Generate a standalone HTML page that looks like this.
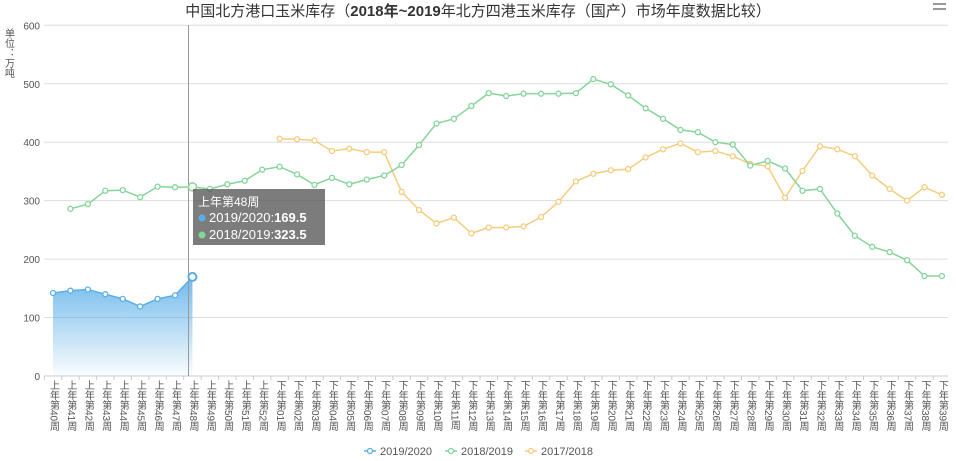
<!DOCTYPE html>
<html><head><meta charset="utf-8">
<style>
html,body{margin:0;padding:0;background:#fff;}
svg{display:block;font-family:"Liberation Sans","Noto Sans CJK SC",sans-serif;}
</style></head>
<body>
<svg id="c" width="956" height="461" viewBox="0 0 956 461" xmlns="http://www.w3.org/2000/svg">
<defs>
<linearGradient id="bg" x1="0" y1="0" x2="0" y2="1">
<stop offset="0" stop-color="#5aaee8" stop-opacity="0.85"/>
<stop offset="1" stop-color="#5aaee8" stop-opacity="0.03"/>
</linearGradient>
</defs>
<text x="478" y="16" text-anchor="middle" font-size="15" fill="#333">中国北方港口玉米库存（<tspan font-weight="bold">2018年~2019</tspan>年北方四港玉米库存（国产）市场年度数据比较）</text>
<g fill="#999"><rect x="933" y="3" width="13" height="2"/><rect x="933" y="8" width="13" height="2"/></g>
<text font-size="10" fill="#555" style="writing-mode:vertical-rl" x="8" y="28">单位：万吨</text>
<g id="g"></g>
</svg>
<script>
const g=document.getElementById('g');
const NS='http://www.w3.org/2000/svg';
function el(t,a,txt){const e=document.createElementNS(NS,t);for(const k in a)e.setAttribute(k,a[k]);if(txt!==undefined)e.textContent=txt;g.appendChild(e);return e;}
const X0=44,X1=948,Y0=376,S=58.45;
const xs=i=>53+17.43*i, ys=v=>Y0-v*S/100;
for(let v=0;v<=600;v+=100){
 el('line',{x1:X0,x2:X1,y1:ys(v),y2:ys(v),stroke:v?'#ddd':'#ccc','stroke-width':1});
 el('text',{x:40,y:ys(v)+4,'text-anchor':'end','font-size':10,fill:'#555'},v);
}
const labels=[];
for(let i=40;i<=52;i++)labels.push('上年第'+i+'周');
for(let i=1;i<=39;i++)labels.push('下年第'+String(i).padStart(2,'0')+'周');
labels.forEach((l,i)=>{
 const x=xs(i);
 el('line',{x1:x-8.7,x2:x-8.7,y1:Y0,y2:Y0+4,stroke:'#ccc'});
 el('text',{x:x,y:380,'font-size':10,fill:'#555',style:'writing-mode:vertical-rl'},l);
});
const blue=[142,146,148,140,132,119,132,138,169.5];
const green=[null,286,294,317,318,306,324,323,323.5,320,328,334,353,358,345,327,339,328,336,343,361,395,432,440,462,484,479,483,483,483,484,508,499,480,458,440,421,417,400,396,360,368,355,317,320,278,240,221,212,198,171,171];
const yel=[];for(let i=0;i<13;i++)yel.push(null);
yel.push(406,405,403,385,389,383,383,315,284,261,271,244,254,254,256,272,298,333,346,352,354,374,388,398,383,385,376,363,359,305,351,393,388,376,343,320,300,323,310);
// blue area
let p='M'+xs(0)+','+Y0;blue.forEach((v,i)=>p+=' L'+xs(i)+','+ys(v));p+=' L'+xs(8)+','+Y0+'Z';
el('path',{d:p,fill:'url(#bg)'});
function series(d,c){
 let pts=[];d.forEach((v,i)=>{if(v!=null)pts.push([xs(i),ys(v)]);});
 el('polyline',{points:pts.map(q=>q.join(',')).join(' '),fill:'none',stroke:c,'stroke-width':1.5});
 pts.forEach(q=>el('circle',{cx:q[0],cy:q[1],r:2.5,fill:'#fff',stroke:c,'stroke-width':1.3}));
}
series(yel,'#f5cd7e');
series(green,'#86d59a');
series(blue,'#5aaee8');
el('line',{x1:188.5,x2:188.5,y1:25,y2:376,stroke:'#999','stroke-width':1});
el('circle',{cx:xs(8),cy:ys(169.5),r:4,fill:'#fff',stroke:'#5aaee8','stroke-width':2});
el('circle',{cx:xs(8),cy:ys(323.5),r:4,fill:'#fff',stroke:'#86d59a','stroke-width':1.5});
// tooltip
el('rect',{x:193,y:189,width:132,height:56,fill:'rgba(80,80,80,0.75)'});
el('text',{x:198,y:206,'font-size':12,fill:'#fff'},'上年第48周');
el('circle',{cx:202,cy:218,r:3.5,fill:'#5aaee8'});
el('circle',{cx:202,cy:235,r:3.5,fill:'#86d59a'});
let t=el('text',{x:209,y:222,'font-size':13,fill:'#fff'});t.innerHTML='2019/2020:<tspan font-weight="bold">169.5</tspan>';
t=el('text',{x:209,y:239,'font-size':13,fill:'#fff'});t.innerHTML='2018/2019:<tspan font-weight="bold">323.5</tspan>';
// legend
[[364,'#5aaee8','2019/2020'],[445,'#86d59a','2018/2019'],[525,'#f5cd7e','2017/2018']].forEach(a=>{
 el('line',{x1:a[0],x2:a[0]+12,y1:451,y2:451,stroke:a[1],'stroke-width':1.5});
 el('circle',{cx:a[0]+6,cy:451,r:2.5,fill:'#fff',stroke:a[1],'stroke-width':1.3});
 el('text',{x:a[0]+16,y:455,'font-size':11,fill:'#555'},a[2]);
});
</script>
</body></html>
